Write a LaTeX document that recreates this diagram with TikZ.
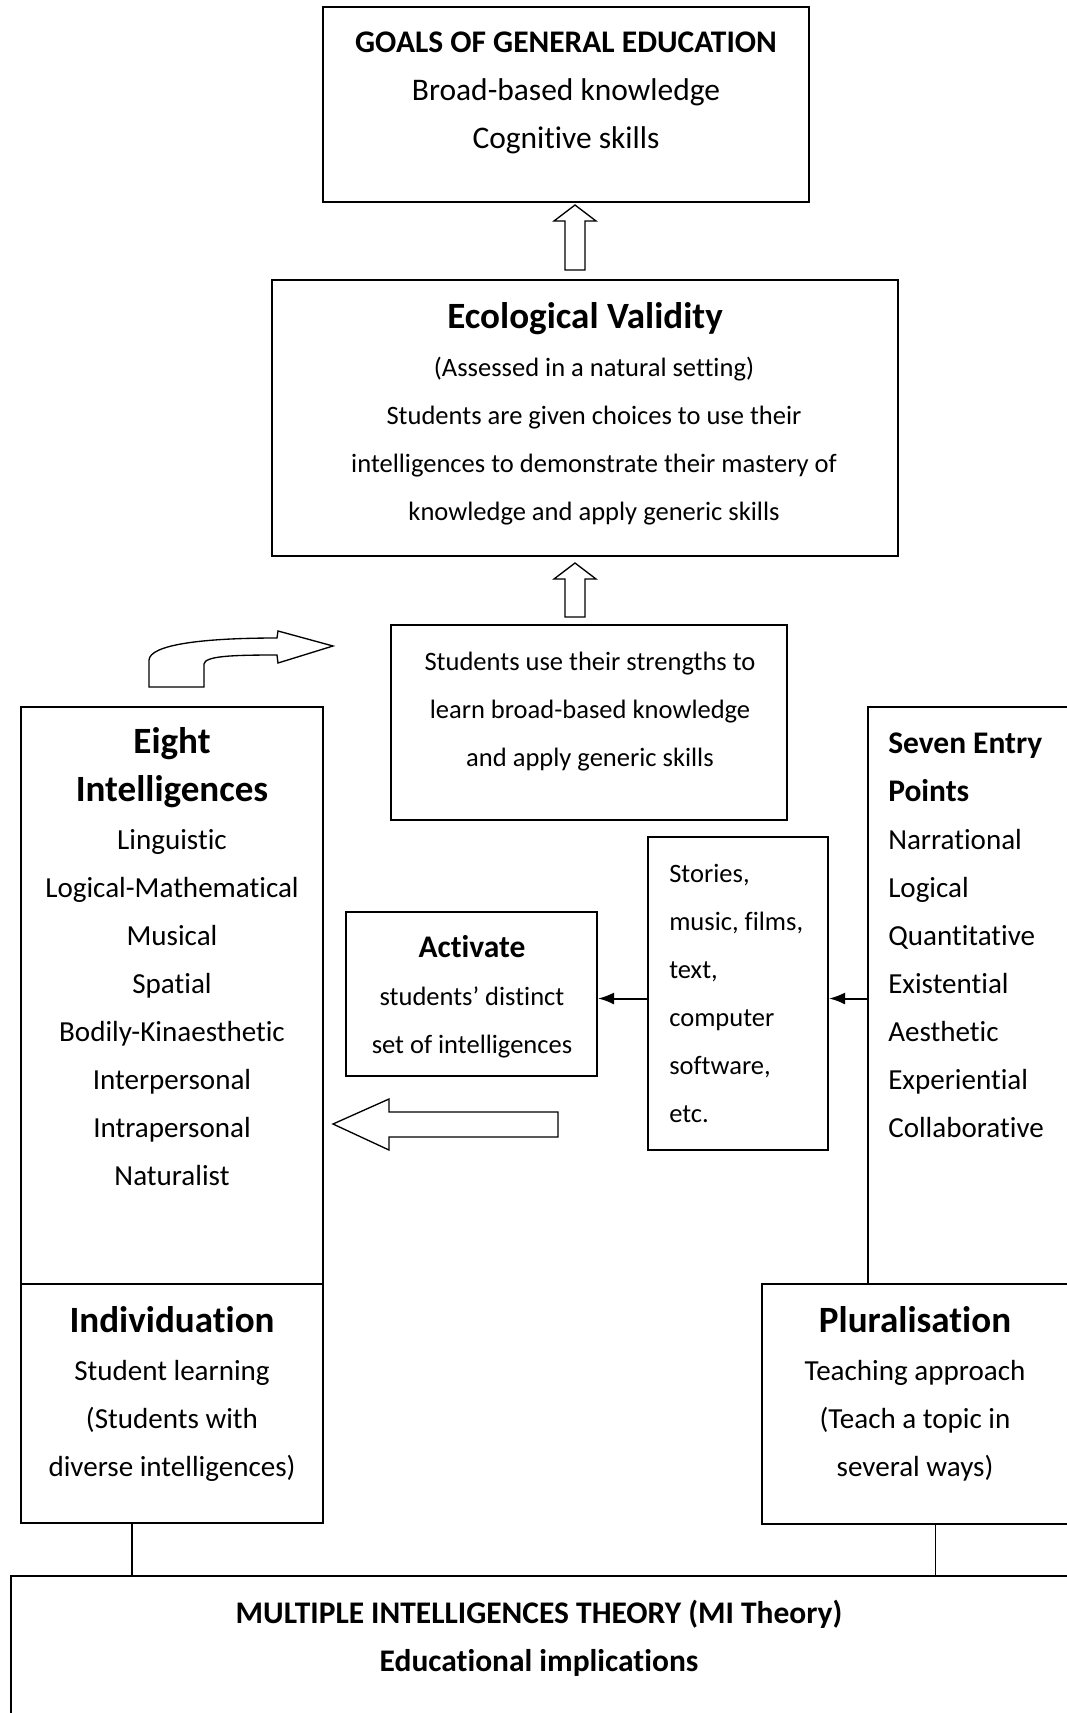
\documentclass[tikz,border=0pt]{standalone}
\usepackage{fontspec}
\setmainfont{Carlito}[Ligatures={TeX,NoCommon,NoContextual,NoRequired},Contextuals=NoAlternate]
\usetikzlibrary{arrows.meta,fit}

\newcommand\fbody{\fontsize{19.9pt}{36pt}\selectfont}
\newcommand\fmid{\fontsize{21.8pt}{36pt}\selectfont}
\newcommand\fbig{\fontsize{23.6pt}{36pt}\selectfont}
\newcommand\ftitle{\fontsize{27.8pt}{36pt}\selectfont}
% hollow block arrow pointing up: x, tip y, bottom y
\newcommand\blockup[3]{%
  \draw[hollow] (#1-10,#3) -- (#1-10,#2+16) -- (#1-21,#2+16) -- (#1,#2)
    -- (#1+21,#2+16) -- (#1+10,#2+16) -- (#1+10,#3) -- cycle;}

\tikzset{
  box/.style={draw, line width=1.5pt, inner sep=0pt},
  txt/.style={inner sep=0pt, anchor=north, align=center, font=\fbody},
  hollow/.style={draw, line width=1pt, fill=white, line join=miter},
  conn/.style={line width=1.5pt, -{Latex[length=12pt,width=9pt]}},
  tie/.style={line width=0.8pt}
}

\begin{document}
\begin{tikzpicture}[x=0.75pt, y=-0.75pt]
\useasboundingbox (0,0) rectangle (1067,1713);
\clip (0,0) rectangle (1067,1713);

% boxes
\node[box, fit={(323,7) (809,202)}] (goals) {};
\node[box, fit={(272,280) (898,556)}] (eco) {};
\node[box, fit={(391,625) (787,820)}] (strengths) {};
\node[box, fit={(21,707) (323,1284)}] (eight) {};
\node[box, fit={(21,1284) (323,1523)}] (indiv) {};
\node[box, fit={(346,912) (597,1076)}] (activate) {};
\node[box, fit={(648,837) (828,1150)}] (stories) {};
\node[box, fit={(868,707) (1100,1284)}] (seven) {};
\node[box, fit={(762,1284) (1075,1524)}] (plural) {};
\node[box, fit={(11,1576) (1075,1730)}] (mi) {};

% texts
\node[txt, font=\fbig] (goalstext) at (566,18.4)
  {\strut\textbf{GOALS OF GENERAL EDUCATION}\\Broad-based knowledge\\Cognitive skills};
\node[txt] (ecotext) at (594,294.4)
  {\strut{\ftitle\bfseries Ecological Validity}\hspace*{13.5pt}\\(Assessed in a natural setting)\\
   Students are given choices to use their\\intelligences to demonstrate their mastery of\\
   knowledge and apply generic skills};
\node[txt] (strengthstext) at (590,636.4)
  {\strut Students use their strengths to\\learn broad-based knowledge\\and apply generic skills};
\node[txt, font=\fmid] (eighttext) at (172,719.4)
  {\strut{\ftitle\bfseries Eight}\\{\ftitle\bfseries Intelligences}\\Linguistic\\Logical-Mathematical\\
   Musical\\Spatial\\Bodily-Kinaesthetic\\Interpersonal\\Intrapersonal\\Naturalist};
\node[txt, font=\fmid] (indivtext) at (172,1298.4)
  {\strut{\ftitle\bfseries Individuation}\\Student learning\\(Students with\\diverse intelligences)};
\node[txt] (activatetext) at (472,923.4)
  {\strut{\fbig\bfseries Activate}\\students’ distinct\\set of intelligences};
\node[txt, anchor=north west, align=left] (storiestext) at (669,848.4)
  {\strut Stories,\\music, films,\\text,\\computer\\software,\\etc.};
\node[txt, anchor=north west, align=left, font=\fmid] (seventext) at (888,719.4)
  {\strut{\fbig\bfseries Seven Entry}\\{\fbig\bfseries Points}\\Narrational\\Logical\\Quantitative\\
   Existential\\Aesthetic\\Experiential\\Collaborative};
\node[txt, font=\fmid] (pluraltext) at (915,1298.4)
  {\strut{\ftitle\bfseries Pluralisation}\\Teaching approach\\(Teach a topic in\\several ways)};
\node[txt, font=\fbig] (mitext) at (539,1589.4)
  {\strut\textbf{MULTIPLE INTELLIGENCES THEORY (MI Theory)}\\\textbf{Educational implications}};

% connectors
\draw[conn] ([yshift=-3.75pt]stories.west) coordinate (s) -- (s -| activate.east);
\draw[conn] (seven.west |- s) -- (s -| stories.east);
\draw[tie] ([xshift=-30pt]indiv.south) coordinate (a) -- (a |- mi.north);
\draw[tie] ([xshift=13pt]plural.south) coordinate (b) -- (b |- mi.north);

% hollow arrows
\blockup{575}{205}{270}
\blockup{575}{563}{617}
\draw[hollow] (558,1112) -- (389,1112) -- (389,1099) -- (333,1124) -- (389,1150)
  -- (389,1137) -- (558,1137) -- cycle;
\draw[hollow] (149,687) -- (149,660) .. controls (150,645) and (200,638) .. (277,638)
  -- (278,631) -- (333,646) -- (278,663) -- (277,655)
  .. controls (232,655) and (205,656) .. (204,664) -- (204,687) -- cycle;
\end{tikzpicture}
\end{document}
